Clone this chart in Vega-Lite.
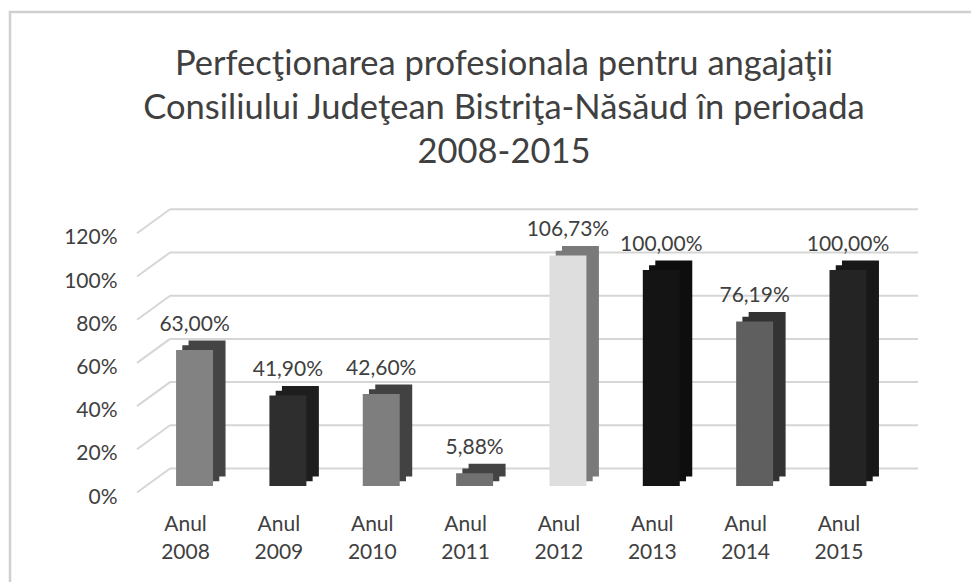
{
  "$schema": "https://vega.github.io/schema/vega-lite/v6.json",
  "width": 988,
  "height": 576,
  "autosize": {"type": "none"},
  "padding": {"left": 10, "top": 12, "right": -27, "bottom": -6},
  "background": "white",
  "config": {
    "view": {"stroke": "#d0d0d0", "strokeWidth": 2.5},
    "font": "Lato",
    "locale": {"number": {"decimal": ",", "thousands": ".", "grouping": [3], "currency": ["", " lei"]}}
  },
  "title": {
    "text": ["Perfecţionarea profesionala pentru angajaţii", "Consiliului Judeţean Bistriţa-Năsăud în perioada", "2008-2015"],
    "fontSize": 34.5,
    "font": "Lato",
    "fontWeight": "normal",
    "color": "#404040",
    "lineHeight": 44,
    "offset": -158,
    "anchor": "middle",
    "frame": "group"
  },
  "datasets": {
    "ani": [
      {"an": "Anul 2008", "val": 0.63},
      {"an": "Anul 2009", "val": 0.419},
      {"an": "Anul 2010", "val": 0.426},
      {"an": "Anul 2011", "val": 0.0588},
      {"an": "Anul 2012", "val": 1.0673},
      {"an": "Anul 2013", "val": 1.0},
      {"an": "Anul 2014", "val": 0.7619},
      {"an": "Anul 2015", "val": 1.0}
    ],
    "grila": [
      {"v": 0}, {"v": 0.2}, {"v": 0.4}, {"v": 0.6}, {"v": 0.8}, {"v": 1.0}, {"v": 1.2}
    ]
  },
  "resolve": {"scale": {"color": "independent"}},
  "layer": [
    {
      "data": {"name": "grila"},
      "mark": {"type": "rule", "stroke": "#d6d6d6", "strokeWidth": 2, "yOffset": -17.5},
      "encoding": {
        "y": {
          "field": "v",
          "type": "quantitative",
          "scale": {"domain": [0, 1.2], "range": [474, 214.8], "nice": false, "zero": true},
          "axis": {
            "orient": "left",
            "offset": -127,
            "values": [0, 0.2, 0.4, 0.6, 0.8, 1.0, 1.2],
            "format": ".0%",
            "grid": false,
            "domain": false,
            "ticks": false,
            "labelPadding": 20,
            "labelOffset": 11,
            "labelFontSize": 21,
            "labelColor": "#404040",
            "labelFont": "Lato",
            "title": null
          }
        },
        "x": {"value": 160},
        "x2": {"value": 908}
      }
    },
    {
      "data": {"name": "grila"},
      "mark": {"type": "rule", "stroke": "#d6d6d6", "strokeWidth": 2, "yOffset": 6.5, "y2Offset": -17.5},
      "encoding": {
        "y": {"field": "v", "type": "quantitative"},
        "y2": {"field": "v"},
        "x": {"value": 127},
        "x2": {"value": 160}
      }
    },
    {
      "data": {"name": "ani"},
      "mark": {"type": "bar", "xOffset": 12.5, "x2Offset": 12.5, "yOffset": -9.5, "y2Offset": -9.5},
      "encoding": {
        "x": {
          "field": "an",
          "type": "nominal",
          "sort": null,
          "scale": {"type": "band", "range": [127, 907], "paddingInner": 0.604, "paddingOuter": 0.48, "align": 0.436},
          "axis": null
        },
        "y": {"field": "val", "type": "quantitative"},
        "y2": {"datum": 0},
        "color": {
          "field": "an",
          "type": "nominal",
          "legend": null,
          "scale": {
            "domain": ["Anul 2008", "Anul 2009", "Anul 2010", "Anul 2011", "Anul 2012", "Anul 2013", "Anul 2014", "Anul 2015"],
            "range": ["#444444", "#1e1e1e", "#424242", "#434343", "#7a7a7a", "#0e0e0e", "#333333", "#181818"]
          }
        }
      }
    },
    {
      "data": {"name": "ani"},
      "mark": {"type": "bar", "xOffset": 6.25, "x2Offset": 6.25, "yOffset": -4.75, "y2Offset": -4.75},
      "encoding": {
        "x": {"field": "an", "type": "nominal", "sort": null},
        "y": {"field": "val", "type": "quantitative"},
        "y2": {"datum": 0},
        "color": {
          "field": "an",
          "type": "nominal",
          "legend": null,
          "scale": {
            "domain": ["Anul 2008", "Anul 2009", "Anul 2010", "Anul 2011", "Anul 2012", "Anul 2013", "Anul 2014", "Anul 2015"],
            "range": ["#444444", "#1e1e1e", "#424242", "#434343", "#7a7a7a", "#0e0e0e", "#333333", "#181818"]
          }
        }
      }
    },
    {
      "data": {"name": "ani"},
      "mark": {"type": "bar"},
      "encoding": {
        "x": {"field": "an", "type": "nominal", "sort": null},
        "y": {"field": "val", "type": "quantitative"},
        "y2": {"datum": 0},
        "color": {
          "field": "an",
          "type": "nominal",
          "legend": null,
          "scale": {
            "domain": ["Anul 2008", "Anul 2009", "Anul 2010", "Anul 2011", "Anul 2012", "Anul 2013", "Anul 2014", "Anul 2015"],
            "range": ["#828282", "#2e2e2e", "#7e7e7e", "#707070", "#dedede", "#141414", "#5f5f5f", "#242424"]
          }
        }
      }
    },
    {
      "data": {"name": "ani"},
      "mark": {"type": "text", "dy": -25, "baseline": "middle", "align": "center", "fontSize": 21, "color": "#404040", "font": "Lato"},
      "encoding": {
        "x": {"field": "an", "type": "nominal", "sort": null},
        "y": {"field": "val", "type": "quantitative"},
        "text": {"field": "val", "type": "quantitative", "format": ".2%"}
      }
    },
    {
      "data": {"name": "ani"},
      "mark": {"type": "text", "dy": 39, "dx": -9, "baseline": "middle", "align": "center", "fontSize": 21, "lineHeight": 28, "lineBreak": " ", "color": "#404040", "font": "Lato"},
      "encoding": {
        "x": {"field": "an", "type": "nominal", "sort": null},
        "y": {"datum": 0},
        "text": {"field": "an", "type": "nominal"}
      }
    }
  ]
}
